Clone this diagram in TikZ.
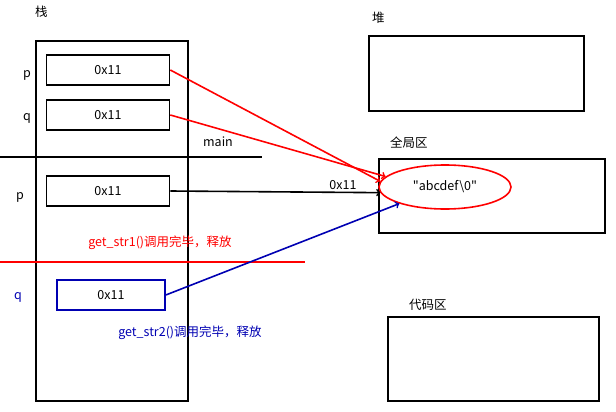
\documentclass[tikz,border=0pt]{standalone}
\usepackage{fontspec}
\setmainfont{Liberation Sans}
\newfontfamily\cjk{Noto Sans CJK SC}
\usetikzlibrary{positioning,shapes.geometric}
\begin{document}
\begin{tikzpicture}[x=1pt,y=-1pt,font=\cjk\fontsize{12.5}{14}\selectfont, line width=1.6pt]
    \useasboundingbox (0,0) rectangle (616,412);
    \tikzset{cell/.style={draw, minimum width=123pt, minimum height=30pt, inner sep=0pt},
             area/.style={draw, anchor=north west, inner sep=0pt}}

    \node[anchor=west] (stacklbl) at (31,12) {栈};
    \node[area, minimum width=152pt, minimum height=360pt] (stack) at (35,40) {};

    \node[cell] (p) at (108,70) {0x11};
    \node[cell] (q) at (108,115) {0x11};
    \node[cell] (p2) at (108,191) {0x11};
    \node[cell, draw=blue!70!black, minimum width=108pt] (q2) at (111,295) {0x11};
    \node (plbl) at (27,75) {p};
    \node (qlbl) at (27,118) {q};
    \node (p2lbl) at (20,197) {p};
    \node[text=blue!70!black] (q2lbl) at (18,297) {q};

    \coordinate (mainL) at (0,157);
    \coordinate (mainR) at (262,157);
    \draw (mainL) -- (mainR);
    \node (mainlbl) at (218,142) {main};
    \coordinate (relL) at (0,262);
    \coordinate (relR) at (305,262);
    \draw[red] (relL) -- (relR);
    \node[text=red] (rel1) at (160,243) {get\_str1()调用完毕，释放};
    \node[text=blue!70!black] (rel2) at (190,333) {get\_str2()调用完毕，释放};

    \node[anchor=west] (heaplbl) at (368,18) {堆};
    \node[area, minimum width=215pt, minimum height=75pt] (heap) at (368,35) {};
    \node[anchor=west] (globlbl) at (386,143) {全局区};
    \node[area, minimum width=226pt, minimum height=74pt] (glob) at (378,158) {};
    \node[draw=red, ellipse, minimum width=132pt, minimum height=44pt, inner sep=0pt] (str) at (445,187) {"abcdef\textbackslash 0"};
    \node[anchor=west] (codelbl) at (405,305) {代码区};
    \node[area, minimum width=211pt, minimum height=84pt] (code) at (387,316) {};

    \node (addr) at (343,185) {0x11};
    \draw[->, red] (p.east) -- (str.175);
    \draw[->, red] (q.east) -- (str.170);
    \draw[->] (p2.east) -- (str.185);
    \draw[->, blue!70!black] (q2.east) -- (str.200);
\end{tikzpicture}
\end{document}
